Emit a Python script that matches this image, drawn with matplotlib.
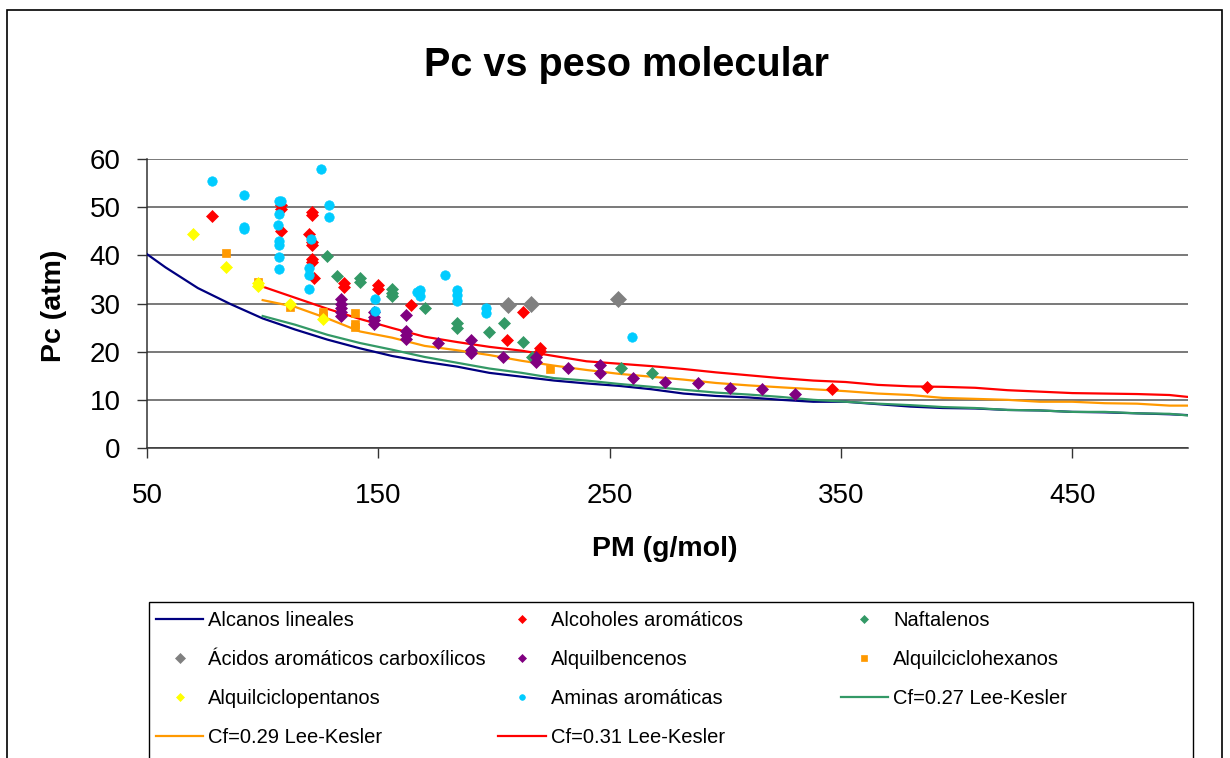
import matplotlib
matplotlib.use('Agg')
import matplotlib.pyplot as plt
from matplotlib.lines import Line2D
from matplotlib.patches import Rectangle

plt.rcParams['font.family'] = ['Liberation Sans', 'DejaVu Sans']

# ---------------- data ----------------
title = "Pc vs peso molecular"
xlabel = "PM (g/mol)"
ylabel = "Pc (atm)"
xticks = [50, 150, 250, 350, 450]
yticks = [0, 10, 20, 30, 40, 50, 60]

# Alcanos lineales (line)
alc_x = [44, 58, 72, 86, 100, 114, 128, 142, 156, 170, 184, 198, 212, 226, 240,
         254, 268, 282, 296, 310, 324, 338, 352, 366, 380, 394, 408, 422, 436,
         450, 464, 478, 492, 506]
alc_y = [42.3, 37.5, 33.2, 29.9, 26.9, 24.6, 22.5, 20.7, 19.1, 17.9, 16.9, 15.6,
         14.8, 14.0, 13.4, 12.9, 12.2, 11.3, 10.8, 10.5, 10.0, 9.6, 9.6, 9.1, 8.6,
         8.3, 8.2, 7.9, 7.8, 7.5, 7.4, 7.2, 7.0, 6.7]

# Lee-Kesler curves
lk_x = [100, 114, 128, 142, 156, 170, 184, 198, 212, 226, 240, 254, 268, 282,
        296, 310, 324, 338, 352, 366, 380, 394, 408, 422, 436, 450, 464, 478,
        492, 506]
lk27_y = [27.4, 25.6, 23.5, 21.8, 20.4, 18.9, 17.7, 16.5, 15.6, 14.5, 14.0, 13.3,
          12.7, 12.1, 11.5, 11.1, 10.6, 10.0, 9.6, 9.2, 8.9, 8.5, 8.3, 7.9, 7.8,
          7.5, 7.5, 7.2, 7.1, 6.5]
lk29_y = [30.7, 29.3, 26.9, 24.2, 22.9, 21.2, 20.3, 19.3, 18.1, 17.1, 16.2, 15.4,
          14.8, 14.2, 13.5, 13.0, 12.6, 12.2, 11.8, 11.3, 11.0, 10.4, 10.2, 10.0,
          9.6, 9.6, 9.3, 9.2, 8.8, 8.8]
lk31_y = [33.5, 31.2, 28.9, 26.8, 24.9, 23.1, 22.0, 21.0, 20.2, 19.1, 18.0, 17.5,
          17.0, 16.4, 15.7, 15.1, 14.5, 14.0, 13.7, 13.1, 12.8, 12.7, 12.5, 12.0,
          11.7, 11.4, 11.3, 11.2, 11.0, 10.3]

# Alcoholes aromáticos
alcoh_x = [78, 108, 108, 108, 121.5, 121.5, 120, 121.5, 121.5, 121.5, 121.5, 122.3,
           135.3, 135.3, 150, 150, 164, 212.5, 205.7, 219.8, 219.8, 346, 387]
alcoh_y = [48.2, 50.5, 49.6, 45.0, 49.0, 48.4, 44.5, 42.8, 42.2, 39.3, 38.6, 35.3,
           34.2, 33.5, 33.8, 33.1, 29.6, 28.3, 22.5, 20.7, 20.2, 12.2, 12.6]

# Naftalenos
naft_x = [128, 132, 142, 142, 156, 156, 156, 170, 184, 184, 198, 204.3, 212.5,
          216.5, 254.8, 268.5]
naft_y = [39.8, 35.7, 35.3, 34.5, 33.0, 32.2, 31.5, 29.1, 26.0, 25.0, 24.1, 25.9,
          22.1, 18.8, 16.7, 15.5]

# Ácidos aromáticos carboxílicos
acid_x = [206, 215.8, 253.7]
acid_y = [29.7, 30.0, 30.9]

# Alquilbencenos
bz_x = [134, 134, 134, 134, 134, 148, 148, 148, 148, 162, 162, 162, 162, 176,
        190, 190, 190, 204, 218, 218, 232, 246, 246, 260, 274, 288, 302, 316, 330]
bz_y = [31.0, 30.0, 29.0, 28.2, 27.4, 28.3, 27.3, 26.5, 25.8, 27.6, 24.2, 23.4,
        22.6, 21.7, 22.5, 20.3, 19.8, 18.8, 18.8, 17.8, 16.7, 17.2, 15.5, 14.6,
        13.8, 13.4, 12.5, 12.2, 11.3]

# Alquilciclohexanos
chx_x = [84, 98, 112, 126, 126, 140, 140, 140, 224]
chx_y = [40.5, 34.5, 29.3, 28.3, 27.5, 28.1, 25.8, 25.2, 16.5]

# Alquilciclopentanos
cpt_x = [70, 84, 98, 98, 112, 126]
cpt_y = [44.4, 37.5, 34.2, 33.6, 30.0, 26.7]

# Aminas aromáticas
am_x = [78, 92, 92, 92, 107, 108, 107, 106.5, 107, 107, 107, 107, 125.2, 128.5,
        128.5, 121, 120, 120, 120, 148.7, 148.7, 166.5, 168, 168, 178.7, 183.8,
        183.8, 183.8, 196.6, 196.6, 259.8]
am_y = [55.5, 52.6, 45.9, 45.5, 51.3, 51.3, 48.5, 46.3, 43.0, 42.2, 39.7, 37.2,
        58.0, 50.5, 48.0, 43.4, 37.3, 36.0, 33.1, 31.0, 28.5, 32.3, 32.8, 31.6,
        36.0, 32.8, 31.8, 30.5, 29.0, 28.0, 23.1]

labels = ["Alcanos lineales", "Alcoholes aromáticos", "Naftalenos",
          "Ácidos aromáticos carboxílicos", "Alquilbencenos", "Alquilciclohexanos",
          "Alquilciclopentanos", "Aminas aromáticas", "Cf=0.27 Lee-Kesler",
          "Cf=0.29 Lee-Kesler", "Cf=0.31 Lee-Kesler"]

# ---------------- figure ----------------
W, H = 1230, 758
fig = plt.figure(figsize=(W / 100, H / 100), dpi=100)


def fx(px):
    return px / W


def fy(py):
    return 1 - py / H


ax = fig.add_axes([fx(147), fy(448), fx(1188) - fx(147), fy(159) - fy(448)])

NAVY, RED, GREEN, GRAY = '#000080', '#FF0000', '#339966', '#808080'
PURPLE, ORANGE, YELLOW, CYAN = '#800080', '#FF9900', '#FFFF00', '#00CCFF'

h_alc, = ax.plot(alc_x, alc_y, color=NAVY, lw=1.6, zorder=3)
h_lk27, = ax.plot(lk_x, lk27_y, color=GREEN, lw=1.6, zorder=3)
h_lk29, = ax.plot(lk_x, lk29_y, color=ORANGE, lw=1.6, zorder=3)
h_lk31, = ax.plot(lk_x, lk31_y, color=RED, lw=1.6, zorder=3)


def pts(x, y, color, marker, ms):
    h, = ax.plot(x, y, ls='none', marker=marker, ms=ms, color=color,
                 mec=color, mew=0.5, zorder=4)
    return h


h_alcoh = pts(alcoh_x, alcoh_y, RED, 'D', 6.2)
h_naft = pts(naft_x, naft_y, GREEN, 'D', 6.2)
h_acid = pts(acid_x, acid_y, GRAY, 'D', 8.6)
h_bz = pts(bz_x, bz_y, PURPLE, 'D', 6.2)
h_chx = pts(chx_x, chx_y, ORANGE, 's', 6.2)
h_cpt = pts(cpt_x, cpt_y, YELLOW, 'D', 6.2)
h_am = pts(am_x, am_y, CYAN, 'o', 6.8)

ax.set_xlim(50, 500)
ax.set_ylim(0, 60)
ax.set_xticks(xticks)
ax.set_yticks(yticks)
ax.tick_params(axis='both', direction='out', length=7, width=1,
               labelsize=20, color='#333333')
ax.tick_params(axis='x', pad=18.5)
ax.tick_params(axis='y', pad=12)
ax.grid(axis='y', color='#555555', lw=1.1)
ax.set_axisbelow(True)
for s in ['top', 'right']:
    ax.spines[s].set_visible(False)
for s in ['left', 'bottom']:
    ax.spines[s].set_color('#333333')
    ax.spines[s].set_linewidth(1.1)

fig.text(fx(627), fy(65), title, ha='center', va='center', fontsize=28.5,
         fontweight='bold')
fig.text(fx(665), fy(549), xlabel, ha='center', va='center', fontsize=20.5,
         fontweight='bold')
fig.text(fx(54), fy(306), ylabel, ha='center', va='center', fontsize=20.5,
         fontweight='bold', rotation=90)

# outer chart border
fig.add_artist(Rectangle((fx(7), fy(800)), fx(1222) - fx(7), fy(10) - fy(800),
                         transform=fig.transFigure, fill=False, ec='#000000',
                         lw=1.2, clip_on=False))
# legend frame
fig.add_artist(Rectangle((fx(149), fy(800)), fx(1193) - fx(149), fy(602) - fy(800),
                         transform=fig.transFigure, fill=False, ec='#000000',
                         lw=1.0, clip_on=False))

cols = [
    ([h_alc, h_acid, h_cpt, h_lk29], [labels[0], labels[3], labels[6], labels[9]]),
    ([h_alcoh, h_bz, h_am, h_lk31], [labels[1], labels[4], labels[7], labels[10]]),
    ([h_naft, h_chx, h_lk27], [labels[2], labels[5], labels[8]]),
]
col_x = [156, 498.4, 840.8]
for (hs, ls), cx in zip(cols, col_x):
    leg = fig.legend(hs, ls, loc='upper left', bbox_to_anchor=(fx(cx), fy(611)),
                     frameon=False, fontsize=14.5, borderpad=0, borderaxespad=0,
                     handlelength=2.34, handletextpad=0.25, labelspacing=1.0,
                     numpoints=1, markerscale=0.6)

fig.savefig('out.png', dpi=100)
